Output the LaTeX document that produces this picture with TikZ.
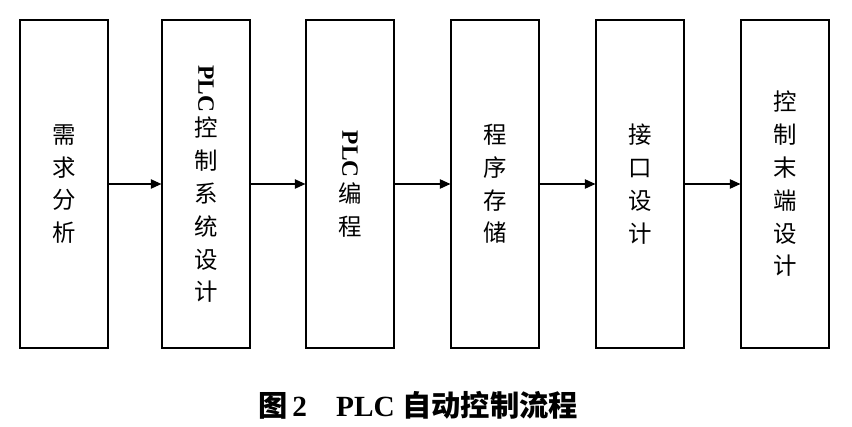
\documentclass[tikz,border=0pt]{standalone}
\usepackage{fontspec}
\setmainfont{Liberation Serif}
\newfontfamily\cjk{Noto Sans CJK SC}
\usetikzlibrary{arrows.meta,positioning}
\tikzset{
  stagebox/.style={rectangle,draw,line width=1pt,minimum width=2.64cm,minimum height=9.84cm,
    align=center,font=\cjk\fontsize{20}{28}\selectfont,inner sep=0pt},
  flow/.style={-{Triangle[length=9pt,width=8pt]},line width=1pt}
}
\newcommand{\vplc}{\rotatebox{-90}{\rmfamily\bfseries PLC\,}}
\begin{document}
\begin{tikzpicture}[x=0.03cm,y=-0.03cm]
  \useasboundingbox (0,0) rectangle (852,427);
  \node[stagebox] (s1) at (64,184) {需\\求\\分\\析};
  \node[stagebox] (s2) at (206,184) {\vplc\\控\\制\\系\\统\\设\\计};
  \node[stagebox] (s3) at (350,184) {\vplc\\编\\程};
  \node[stagebox] (s4) at (495,184) {程\\序\\存\\储};
  \node[stagebox] (s5) at (640,184) {接\\口\\设\\计};
  \node[stagebox] (s6) at (785,184) {控\\制\\末\\端\\设\\计};
  \foreach \a/\b in {s1/s2,s2/s3,s3/s4,s4/s5,s5/s6}
    \draw[flow] (\a) -- (\b);
  \node (cap) at (418,405) {\fontsize{25}{30}\selectfont\bfseries{\cjk 图}\,2\quad PLC {\cjk 自动控制流程}};
\end{tikzpicture}
\end{document}
